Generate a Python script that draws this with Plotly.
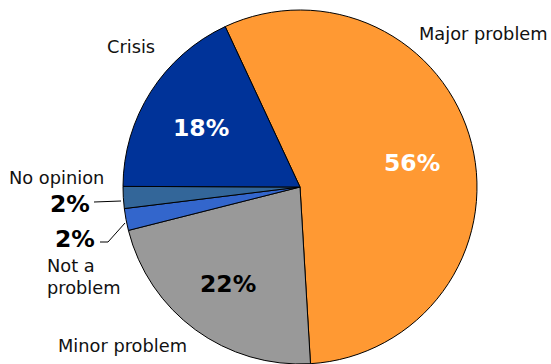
import plotly.graph_objects as go

# Survey answers, listed clockwise starting from the upper-left edge of the orange slice
categories = ["Major problem", "Minor problem", "Not a problem", "No opinion", "Crisis"]
shares = [56, 22, 2, 2, 18]
colors = ["#FF9933", "#999999", "#3366CC", "#336699", "#003399"]

W, H = 551, 364
FONT = "DejaVu Sans, Verdana, sans-serif"


def px(x):
    return x / W


def py(y):
    return 1 - y / H


fig = go.Figure(
    go.Pie(
        labels=categories,
        values=shares,
        sort=False,
        direction="clockwise",
        rotation=-25,
        marker=dict(colors=colors, line=dict(color="#000000", width=1)),
        textinfo="none",
        hoverinfo="label+percent",
        showlegend=False,
        domain=dict(x=[px(122), px(478)], y=[0, py(10)]),
    )
)

share = dict(zip(categories, shares))

# Category names placed around the pie
name_labels = [
    ("Major problem", 418, 33, "left"),
    ("Crisis", 131, 46, "center"),
    ("No opinion", 8, 177, "left"),
    ("Not a", 46, 265, "left"),
    ("problem", 46, 287, "left"),
    ("Minor problem", 57, 345, "left"),
]
annotations = []
for text, x, y, align in name_labels:
    annotations.append(dict(
        text=text, x=px(x), y=py(y), xref="paper", yref="paper",
        xanchor=align, yanchor="middle", align="left", showarrow=False,
        borderpad=0,
        font=dict(family=FONT, size=17.8, color="#111111"),
    ))

# Percentage labels, taken from the same values that size the slices
pct_labels = [
    ("Major problem", 412, 163, "#FFFFFF", "center"),
    ("Crisis", 201, 128, "#FFFFFF", "center"),
    ("Minor problem", 228, 284, "#000000", "center"),
    ("No opinion", 91, 204, "#000000", "right"),
    ("Not a problem", 96, 239, "#000000", "right"),
]
for cat, x, y, col, anchor in pct_labels:
    annotations.append(dict(
        text=f"<b>{share[cat]}%</b>", x=px(x), y=py(y), xref="paper", yref="paper",
        xanchor=anchor, yanchor="middle", showarrow=False,
        borderpad=0,
        font=dict(family=FONT, size=23.5, color=col),
    ))

# Leader lines for the two thin slices
leaders = [
    [(94, 202), (121, 201)],
    [(100, 242), (108, 242), (125, 223)],
]
shapes = []
for pts in leaders:
    path = "M " + " L ".join(f"{px(x)} {py(y)}" for x, y in pts)
    shapes.append(dict(type="path", path=path, xref="paper", yref="paper",
                       line=dict(color="#000000", width=1)))

fig.update_layout(
    width=W, height=H,
    margin=dict(l=0, r=0, t=0, b=0),
    paper_bgcolor="#FFFFFF",
    plot_bgcolor="#FFFFFF",
    annotations=annotations,
    shapes=shapes,
)

fig.write_html("out.html")
